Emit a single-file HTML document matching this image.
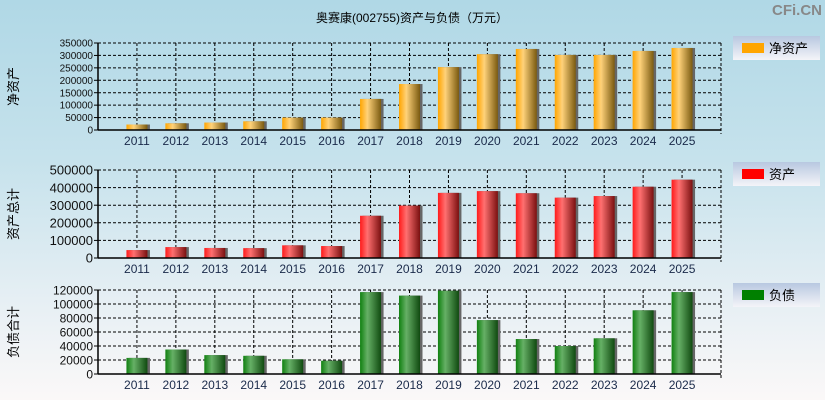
<!DOCTYPE html>
<html><head><meta charset="utf-8">
<style>
body{margin:0;width:825px;height:400px;overflow:hidden;font-family:"Liberation Sans","Noto Sans CJK SC",sans-serif;}
#bg{position:absolute;left:0;top:0;width:825px;height:400px;background:linear-gradient(#b0d8e6 0%,#c6e2ec 40%,#e6eff4 75%,#fbf8f8 100%);}
svg{position:absolute;left:0;top:0}
</style></head><body>
<div id="bg"></div>
<svg id="c" width="825" height="400">
<defs>
<linearGradient id="gO" x1="0" x2="1"><stop offset="0" stop-color="#ffa500"/><stop offset="0.35" stop-color="#ffd27a"/><stop offset="1" stop-color="#7a5a10"/></linearGradient>
<linearGradient id="gR" x1="0" x2="1"><stop offset="0" stop-color="#ff1a1a"/><stop offset="0.35" stop-color="#ff7070"/><stop offset="1" stop-color="#7a1010"/></linearGradient>
<linearGradient id="gG" x1="0" x2="1"><stop offset="0" stop-color="#108010"/><stop offset="0.35" stop-color="#66b066"/><stop offset="1" stop-color="#104a10"/></linearGradient>
<linearGradient id="gL" x1="0" x2="0" y1="0" y2="1"><stop offset="0" stop-color="#b8c8e0"/><stop offset="1" stop-color="#f4f4f8"/></linearGradient>
</defs>
<text x="412" y="22" text-anchor="middle" font-size="12" fill="#000">奥赛康(002755)资产与负债（万元）</text>
<text x="822" y="15" text-anchor="end" font-size="15" font-weight="bold" fill="#888">CFi.CN</text>
</svg>
<script>
const years=['2011','2012','2013','2014','2015','2016','2017','2018','2019','2020','2021','2022','2023','2024','2025'];
const netAssets=[22000,27000,30000,35000,50000,50000,125000,185000,253000,305000,326000,302000,302000,318000,330000];
const totalAssets=[45000,62000,57000,56000,72000,68000,240000,298000,370000,380000,368000,343000,352000,405000,445000];
const liabilities=[23000,35000,27000,26000,21000,19000,117000,112000,119000,77000,50000,40000,51000,91000,117000];
const netTicks=[0,50000,100000,150000,200000,250000,300000,350000];
const assetTicks=[0,100000,200000,300000,400000,500000];
const liabTicks=[0,20000,40000,60000,80000,100000,120000];
const svg=document.getElementById('c');
const NS='http://www.w3.org/2000/svg';
function mk(t,a,p){const e=document.createElementNS(NS,t);for(const k in a)e.setAttribute(k,a[k]);(p||svg).appendChild(e);return e;}
const L=98,R=721;
function xBand(i){return L+(R-L)/16*(i+1);}
function panel(key,data,ticks,top,bot,max,grad,fs,ytitle,legName,legColor,legY){
  const g=mk('g',{});
  
  
  const y=v=>bot-(v/max)*(bot-top);
  ticks.forEach(t=>{
    const yy=y(t);
    if(t>0){const gl=mk('line',{x1:L,x2:R,y1:yy,y2:yy,stroke:'#000','stroke-dasharray':'3,2','stroke-width':1},g);
      
      }
    const tk=mk('line',{x1:L-4,x2:L,y1:yy,y2:yy,stroke:'#000'},g);
    
    
    const tx=mk('text',{x:L-5,y:yy+fs*0.36,'text-anchor':'end','font-size':fs,fill:'#111'},g);
    tx.textContent=t;
    
    
  });
  years.forEach((yr,i)=>{
    const x=xBand(i);
    const vl=mk('line',{x1:x,x2:x,y1:top,y2:bot,stroke:'#000','stroke-dasharray':'3,2'},g);
    
    
    const yt=y(data[i]);
    const sh=mk('rect',{x:x-10+2,y:yt,width:21,height:bot-yt,fill:'#666'},g);
    
    
    const b=mk('rect',{x:x-10.5,y:yt,width:21,height:bot-yt,fill:grad},g);
    
    
    const lb=mk('text',{x:x,y:bot+15,'text-anchor':'middle','font-size':12,fill:'#1a2a4a'},g);
    lb.textContent=yr;
    
    
  });
  const vr=mk('line',{x1:R,x2:R,y1:top,y2:bot+4,stroke:'#000','stroke-dasharray':'3,2'},g);
  
  
  const tl=mk('line',{x1:L,x2:R,y1:top,y2:top,stroke:'#000','stroke-dasharray':'3,2'},g);
  
  
  const ya=mk('line',{x1:L,x2:L,y1:top,y2:bot,stroke:'#000','stroke-width':1.5},g);
  
  
  const xa=mk('line',{x1:L,x2:R,y1:bot,y2:bot,stroke:'#000','stroke-width':1.5},g);
  
  
  const mid=(top+bot)/2;
  const yl=mk('text',{x:18,y:mid,'text-anchor':'middle','font-size':13,fill:'#000',transform:'rotate(-90 18 '+mid+')'},g);
  yl.textContent=ytitle;
  
  
  const lg=mk('g',{},g);
  
  
  mk('rect',{x:733,y:legY,width:87,height:24,fill:'url(#gL)'},lg);
  mk('rect',{x:742,y:legY+7,width:22,height:10,fill:legColor},lg);
  const lt=mk('text',{x:769,y:legY+17,'font-size':13,fill:'#000'},lg);
  lt.textContent=legName;
  
  
}
panel('net-assets',netAssets,netTicks,43,130,350000,'url(#gO)',10,'净资产','净资产','#ffa500',36);
panel('total-assets',totalAssets,assetTicks,170,258,500000,'url(#gR)',13,'资产总计','资产','#ff0000',162);
panel('liabilities',liabilities,liabTicks,290,374,120000,'url(#gG)',12,'负债合计','负债','#008000',283);
</script>
</body></html>
